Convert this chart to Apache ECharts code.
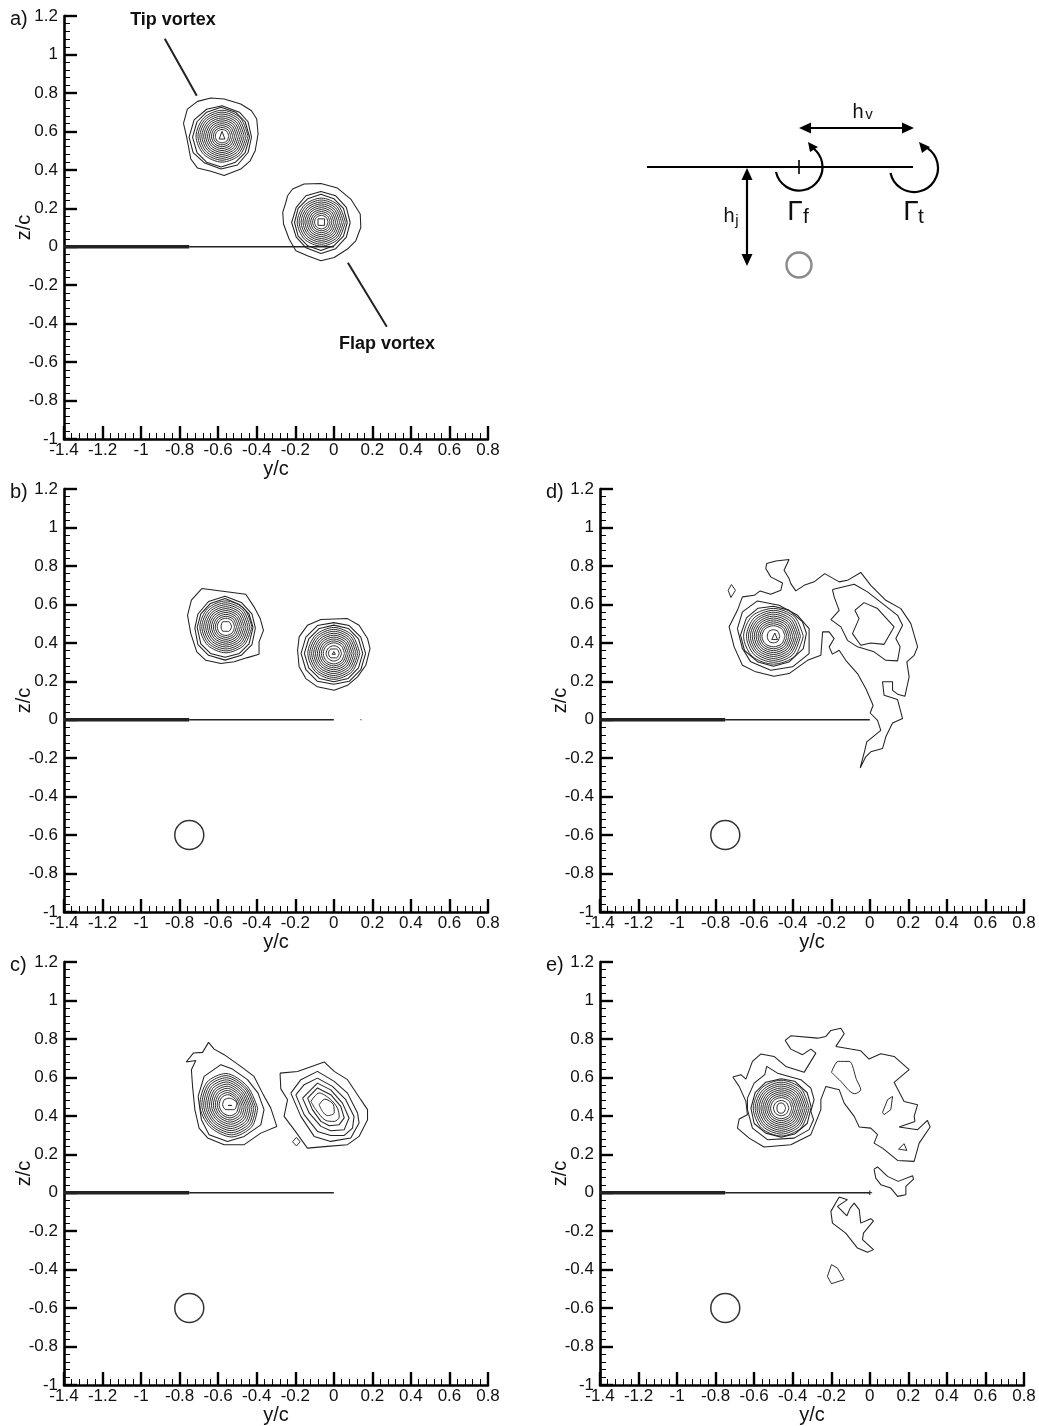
<!DOCTYPE html>
<html>
<head>
<meta charset="utf-8">
<style>html,body{margin:0;padding:0;background:#fff}#chart{width:1039px;height:1426px}</style>
<script src="https://cdn.jsdelivr.net/npm/echarts@6/dist/echarts.min.js"></script>
</head>
<body>
<div id="chart"></div>
<script>
const yTickMin = -1.4, yTickMax = 0.8, zTickMin = -1, zTickMax = 1.2, tickStep = 0.2;
const plateThick = [[-1.4,0],[-0.75,0]];
const plateThin = [[-0.75,0],[0,0]];
const jetCentre = [[-0.75,-0.6]];
const tipLeader = [[-0.877,1.082],[-0.711,0.785]];
const flapLeader = [[0.073,-0.083],[0.275,-0.416]];
const specB = [[0.14,0.003],[0.142,-0.003]];
const specE1 = [[-0.012,0],[0.012,0]];
const specE2 = [[0,-0.012],[0,0.012]];

const aTipRings = [
[[-.78,.641],[-.76,.716],[-.707,.756],[-.638,.773],[-.569,.768],[-.483,.742],[-.427,.707],[-.40,.664],[-.393,.586],[-.408,.499],[-.434,.447],[-.483,.404],[-.569,.371],[-.638,.392],[-.707,.409],[-.742,.456],[-.763,.568]],
[[-.427,.57],[-.445,.65],[-.49,.70],[-.58,.733],[-.66,.715],[-.725,.66],[-.751,.57],[-.73,.49],[-.67,.435],[-.585,.404],[-.50,.425],[-.445,.49]],
[[-.437,.57],[-.46,.65],[-.51,.70],[-.585,.725],[-.66,.70],[-.71,.65],[-.733,.57],[-.71,.49],[-.66,.44],[-.585,.415],[-.51,.44],[-.46,.49]],
[[-.445,.575],[-.485,.67],[-.58,.71],[-.675,.67],[-.715,.575],[-.675,.48],[-.58,.44],[-.485,.48]],
[[-.455,.575],[-.492,.663],[-.58,.70],[-.668,.663],[-.705,.575],[-.668,.487],[-.58,.45],[-.492,.487]],
[[-.465,.575],[-.499,.656],[-.58,.69],[-.661,.656],[-.695,.575],[-.661,.494],[-.58,.46],[-.499,.494]],
[[-.475,.575],[-.506,.649],[-.58,.68],[-.654,.649],[-.685,.575],[-.654,.501],[-.58,.47],[-.506,.501]],
[[-.485,.575],[-.513,.642],[-.58,.67],[-.647,.642],[-.675,.575],[-.647,.508],[-.58,.48],[-.513,.508]],
[[-.495,.575],[-.52,.635],[-.58,.66],[-.64,.635],[-.665,.575],[-.64,.515],[-.58,.49],[-.52,.515]],
[[-.505,.575],[-.527,.628],[-.58,.65],[-.633,.628],[-.655,.575],[-.633,.522],[-.58,.50],[-.527,.522]],
[[-.515,.575],[-.534,.621],[-.58,.64],[-.626,.621],[-.645,.575],[-.626,.529],[-.58,.51],[-.534,.529]],
[[-.525,.575],[-.541,.614],[-.58,.63],[-.619,.614],[-.635,.575],[-.619,.536],[-.58,.52],[-.541,.536]],
[[-.535,.575],[-.548,.607],[-.58,.62],[-.612,.607],[-.625,.575],[-.612,.543],[-.58,.53],[-.548,.543]],
[[-.545,.575],[-.555,.6],[-.58,.61],[-.605,.6],[-.615,.575],[-.605,.55],[-.58,.54],[-.555,.55]],
[[-.565,.56],[-.58,.6],[-.595,.56]]
];
const aFlapRings = [
[[-.24,.265],[-.214,.30],[-.154,.326],[-.067,.329],[.019,.305],[.088,.248],[.137,.17],[.14,.10],[.114,.031],[.071,-.012],[.002,-.056],[-.067,-.073],[-.137,-.047],[-.197,-.021],[-.232,.04],[-.261,.118],[-.265,.179],[-.249,.23]],
[[.085,.126],[.065,.205],[.01,.265],[-.067,.287],[-.145,.265],[-.195,.205],[-.219,.126],[-.195,.05],[-.145,-.005],[-.067,-.035],[.01,-.01],[.065,.05]],
[[.07,.126],[.05,.20],[0,.25],[-.067,.273],[-.135,.25],[-.185,.2],[-.204,.126],[-.185,.055],[-.135,.005],[-.067,-.02],[0,.005],[.05,.055]],
[[.06,.128],[.023,.216],[-.065,.253],[-.153,.216],[-.19,.128],[-.153,.04],[-.065,.003],[.023,.04]],
[[.05,.128],[.016,.209],[-.065,.243],[-.146,.209],[-.18,.128],[-.146,.047],[-.065,.013],[.016,.047]],
[[.04,.128],[.009,.202],[-.065,.233],[-.139,.202],[-.17,.128],[-.139,.054],[-.065,.023],[.009,.054]],
[[.03,.128],[.002,.195],[-.065,.223],[-.132,.195],[-.16,.128],[-.132,.061],[-.065,.033],[.002,.061]],
[[.02,.128],[-.005,.188],[-.065,.213],[-.125,.188],[-.15,.128],[-.125,.068],[-.065,.043],[-.005,.068]],
[[.01,.128],[-.012,.181],[-.065,.203],[-.118,.181],[-.14,.128],[-.118,.075],[-.065,.053],[-.012,.075]],
[[0,.128],[-.019,.174],[-.065,.193],[-.111,.174],[-.13,.128],[-.111,.082],[-.065,.063],[-.019,.082]],
[[-.01,.128],[-.026,.167],[-.065,.183],[-.104,.167],[-.12,.128],[-.104,.089],[-.065,.073],[-.026,.089]],
[[-.02,.128],[-.033,.16],[-.065,.173],[-.097,.16],[-.11,.128],[-.097,.096],[-.065,.083],[-.033,.096]],
[[-.03,.128],[-.04,.153],[-.065,.163],[-.09,.153],[-.1,.128],[-.09,.103],[-.065,.093],[-.04,.103]],
[[-.048,.145],[-.082,.145],[-.082,.111],[-.048,.111]]
];
const bTipRings = [
[[-.685,.682],[-.586,.67],[-.457,.653],[-.414,.587],[-.382,.526],[-.365,.465],[-.388,.405],[-.388,.341],[-.448,.323],[-.517,.301],[-.586,.292],[-.664,.309],[-.711,.353],[-.742,.448],[-.759,.543],[-.739,.622]],
[[-.407,.476],[-.425,.55],[-.48,.61],[-.564,.642],[-.65,.615],[-.705,.55],[-.721,.476],[-.705,.39],[-.65,.335],[-.564,.31],[-.48,.335],[-.425,.39]],
[[-.419,.48],[-.44,.55],[-.49,.6],[-.564,.63],[-.64,.605],[-.69,.55],[-.709,.48],[-.69,.395],[-.64,.345],[-.564,.325],[-.49,.345],[-.44,.395]],
[[-.425,.483],[-.465,.578],[-.56,.618],[-.655,.578],[-.695,.483],[-.655,.388],[-.56,.348],[-.465,.388]],
[[-.435,.483],[-.472,.571],[-.56,.608],[-.648,.571],[-.685,.483],[-.648,.395],[-.56,.358],[-.472,.395]],
[[-.445,.483],[-.479,.564],[-.56,.598],[-.641,.564],[-.675,.483],[-.641,.402],[-.56,.368],[-.479,.402]],
[[-.455,.483],[-.486,.557],[-.56,.588],[-.634,.557],[-.665,.483],[-.634,.409],[-.56,.378],[-.486,.409]],
[[-.465,.483],[-.493,.55],[-.56,.578],[-.627,.55],[-.655,.483],[-.627,.416],[-.56,.388],[-.493,.416]],
[[-.475,.483],[-.5,.543],[-.56,.568],[-.62,.543],[-.645,.483],[-.62,.423],[-.56,.398],[-.5,.423]],
[[-.485,.483],[-.507,.536],[-.56,.558],[-.613,.536],[-.635,.483],[-.613,.43],[-.56,.408],[-.507,.43]],
[[-.495,.483],[-.514,.529],[-.56,.548],[-.606,.529],[-.625,.483],[-.606,.437],[-.56,.418],[-.514,.437]],
[[-.505,.483],[-.521,.522],[-.56,.538],[-.599,.522],[-.615,.483],[-.599,.444],[-.56,.428],[-.521,.444]],
[[-.515,.483],[-.528,.515],[-.56,.528],[-.592,.515],[-.605,.483],[-.592,.451],[-.56,.438],[-.528,.451]],
[[-.53,.483],[-.545,.51],[-.575,.51],[-.585,.483],[-.575,.46],[-.545,.46]]
];
const bFlapRings = [
[[-.188,.361],[-.18,.431],[-.137,.491],[-.067,.521],[.071,.526],[.131,.491],[.175,.422],[.188,.37],[.166,.283],[.123,.223],[.071,.179],[.002,.153],[-.085,.171],[-.145,.214],[-.18,.275]],
[[.165,.345],[.14,.43],[.08,.49],[0,.505],[-.085,.49],[-.145,.43],[-.17,.345],[-.145,.26],[-.085,.2],[0,.185],[.08,.2],[.14,.26]],
[[.15,.345],[.128,.42],[.075,.475],[0,.492],[-.075,.475],[-.13,.42],[-.153,.345],[-.13,.27],[-.075,.215],[0,.198],[.075,.215],[.128,.27]],
[[.135,.345],[.095,.44],[0,.48],[-.095,.44],[-.135,.345],[-.095,.25],[0,.21],[.095,.25]],
[[.125,.345],[.088,.433],[0,.47],[-.088,.433],[-.125,.345],[-.088,.257],[0,.22],[.088,.257]],
[[.115,.345],[.081,.426],[0,.46],[-.081,.426],[-.115,.345],[-.081,.264],[0,.23],[.081,.264]],
[[.105,.345],[.074,.419],[0,.45],[-.074,.419],[-.105,.345],[-.074,.271],[0,.24],[.074,.271]],
[[.095,.345],[.067,.412],[0,.44],[-.067,.412],[-.095,.345],[-.067,.278],[0,.25],[.067,.278]],
[[.085,.345],[.06,.405],[0,.43],[-.06,.405],[-.085,.345],[-.06,.285],[0,.26],[.06,.285]],
[[.075,.345],[.053,.398],[0,.42],[-.053,.398],[-.075,.345],[-.053,.292],[0,.27],[.053,.292]],
[[.065,.345],[.046,.391],[0,.41],[-.046,.391],[-.065,.345],[-.046,.299],[0,.28],[.046,.299]],
[[.055,.345],[.039,.384],[0,.4],[-.039,.384],[-.055,.345],[-.039,.306],[0,.29],[.039,.306]],
[[.04,.345],[.028,.373],[0,.385],[-.028,.373],[-.04,.345],[-.028,.317],[0,.305],[.028,.317]],
[[.028,.345],[.015,.368],[-.015,.368],[-.028,.345],[-.015,.322],[.015,.322]],
[[.008,.34],[0,.355],[-.008,.34]]
];
const cTipRings = [
[[-.766,.68],[-.728,.727],[-.681,.73],[-.65,.782],[-.621,.747],[-.569,.718],[-.483,.657],[-.414,.605],[-.37,.518],[-.327,.44],[-.296,.345],[-.379,.31],[-.465,.25],[-.569,.25],[-.655,.285],[-.699,.336],[-.721,.432],[-.733,.553],[-.739,.64],[-.716,.688]],
[[-.704,.501],[-.673,.605],[-.586,.666],[-.526,.643],[-.448,.588],[-.393,.518],[-.362,.432],[-.379,.353],[-.465,.293],[-.552,.267],[-.647,.302],[-.687,.38]],
[[-.395,.44],[-.448,.553],[-.56,.62],[-.658,.575],[-.695,.455],[-.643,.343],[-.53,.29],[-.425,.343]],
[[-.405,.441],[-.454,.546],[-.559,.609],[-.65,.567],[-.685,.455],[-.636,.35],[-.531,.301],[-.433,.35]],
[[-.415,.442],[-.46,.54],[-.558,.598],[-.643,.559],[-.675,.455],[-.63,.357],[-.532,.312],[-.441,.357]],
[[-.425,.443],[-.467,.533],[-.557,.587],[-.635,.551],[-.665,.455],[-.623,.365],[-.533,.323],[-.449,.365]],
[[-.435,.444],[-.474,.527],[-.556,.576],[-.628,.543],[-.655,.455],[-.617,.372],[-.534,.334],[-.457,.372]],
[[-.445,.445],[-.48,.52],[-.555,.565],[-.62,.535],[-.645,.455],[-.61,.38],[-.535,.345],[-.465,.38]],
[[-.455,.446],[-.487,.514],[-.554,.554],[-.613,.527],[-.635,.455],[-.604,.387],[-.536,.356],[-.473,.387]],
[[-.465,.447],[-.493,.507],[-.553,.543],[-.605,.519],[-.625,.455],[-.597,.395],[-.537,.367],[-.481,.395]],
[[-.475,.448],[-.5,.5],[-.552,.532],[-.598,.511],[-.615,.455],[-.591,.402],[-.538,.378],[-.489,.402]],
[[-.485,.449],[-.506,.494],[-.551,.521],[-.59,.503],[-.605,.455],[-.584,.41],[-.539,.389],[-.497,.41]],
[[-.495,.45],[-.512,.488],[-.55,.51],[-.582,.495],[-.595,.455],[-.577,.417],[-.54,.4],[-.505,.417]],
[[-.569,.484],[-.543,.492],[-.503,.466],[-.517,.432],[-.56,.432],[-.577,.458]],
[[-.53,.454],[-.538,.463],[-.548,.454],[-.538,.445]]
];
const cFlapRings = [
[[-.279,.622],[-.188,.631],[-.05,.68],[.002,.631],[.071,.588],[.14,.484],[.175,.432],[.175,.38],[.131,.293],[.071,.25],[-.033,.241],[-.137,.232],[-.206,.328],[-.258,.397],[-.24,.484],[-.275,.54]],
[[-.223,.518],[-.171,.588],[-.085,.631],[.002,.579],[.071,.518],[.123,.415],[.131,.363],[.088,.285],[-.016,.267],[-.102,.293],[-.171,.397]],
[[-.197,.509],[-.154,.562],[-.085,.596],[-.007,.553],[.062,.484],[.105,.397],[.097,.336],[.054,.298],[-.016,.298],[-.085,.319],[-.154,.406]],
[[-.162,.492],[-.085,.57],[-.016,.535],[.045,.466],[.079,.389],[.054,.328],[-.016,.322],[-.067,.345],[-.128,.415]],
[[-.136,.492],[-.085,.545],[-.016,.51],[.036,.449],[.054,.389],[.028,.354],[-.024,.348],[-.067,.371],[-.111,.432]],
[[-.119,.475],[-.076,.519],[-.019,.487],[.019,.44],[.028,.393],[.002,.371],[-.042,.376],[-.093,.432]],
[[-.076,.458],[-.047,.487],[-.002,.458],[.002,.415],[-.033,.401],[-.059,.423]],
[[-.214,.265],[-.194,.288],[-.175,.265],[-.194,.243]]
];
const dVortexRings = [
[[-.687,.474],[-.661,.561],[-.583,.618],[-.471,.595],[-.375,.543],[-.315,.474],[-.315,.344],[-.401,.275],[-.514,.257],[-.618,.301],[-.661,.37]],
[[-.329,.45],[-.35,.51],[-.42,.57],[-.50,.59],[-.58,.58],[-.64,.53],[-.671,.44],[-.65,.36],[-.58,.30],[-.50,.278],[-.42,.30],[-.345,.37]],
[[-.345,.434],[-.39,.535],[-.5,.579],[-.61,.54],[-.655,.434],[-.61,.33],[-.5,.289],[-.39,.33]],
[[-.36,.434],[-.40,.53],[-.5,.569],[-.60,.53],[-.64,.434],[-.60,.338],[-.5,.299],[-.40,.338]],
[[-.37,.434],[-.408,.522],[-.5,.559],[-.592,.522],[-.63,.434],[-.592,.346],[-.5,.309],[-.408,.346]],
[[-.38,.434],[-.415,.515],[-.5,.549],[-.585,.515],[-.62,.434],[-.585,.353],[-.5,.319],[-.415,.353]],
[[-.39,.434],[-.422,.508],[-.5,.539],[-.578,.508],[-.61,.434],[-.578,.36],[-.5,.329],[-.422,.36]],
[[-.40,.434],[-.429,.501],[-.5,.529],[-.571,.501],[-.60,.434],[-.571,.367],[-.5,.339],[-.429,.367]],
[[-.41,.434],[-.436,.494],[-.5,.519],[-.564,.494],[-.59,.434],[-.564,.374],[-.5,.349],[-.436,.374]],
[[-.42,.434],[-.443,.487],[-.5,.509],[-.557,.487],[-.58,.434],[-.557,.381],[-.5,.359],[-.443,.381]],
[[-.43,.434],[-.45,.48],[-.5,.499],[-.55,.48],[-.57,.434],[-.55,.388],[-.5,.369],[-.45,.388]],
[[-.44,.434],[-.457,.473],[-.5,.489],[-.543,.473],[-.56,.434],[-.543,.395],[-.5,.379],[-.457,.395]],
[[-.468,.434],[-.477,.46],[-.5,.468],[-.523,.46],[-.532,.434],[-.523,.408],[-.5,.40],[-.477,.408]],
[[-.493,.451],[-.479,.417],[-.509,.417]]
];
const dOuterContour = [[-.661,.639],[-.6,.647],[-.569,.67],[-.514,.653],[-.462,.673],[-.453,.711],[-.514,.743],[-.54,.786],[-.535,.812],[-.488,.826],[-.419,.833],[-.445,.777],[-.419,.734],[-.41,.708],[-.384,.67],[-.341,.699],[-.289,.717],[-.234,.76],[-.159,.717],[-.116,.725],[-.047,.766],[.005,.699],[.083,.621],[.161,.578],[.213,.5],[.248,.379],[.23,.335],[.192,.301],[.204,.223],[.182,.122],[.144,.133],[.118,.153],[.118,.197],[.066,.197],[.074,.127],[.144,.105],[.17,.006],[.118,-.017],[.083,-.089],[.066,-.15],[.005,-.167],[-.021,-.193],[-.05,-.251],[-.026,-.159],[-.016,-.115],[.057,-.055],[.04,-.003],[.002,.035],[.017,.075],[-.021,.162],[-.064,.24],[-.125,.309],[-.159,.361],[-.194,.341],[-.211,.379],[-.185,.422],[-.211,.457],[-.245,.457],[-.254,.335],[-.323,.309],[-.419,.24],[-.497,.226],[-.592,.249],[-.661,.283],[-.704,.379],[-.73,.483],[-.687,.569]];
const dInnerContour = [[-.194,.677],[-.081,.705],[-.012,.665],[.066,.604],[.144,.543],[.17,.491],[.135,.422],[.157,.379],[.144,.306],[.083,.309],[.022,.353],[-.064,.379],[-.116,.413],[-.15,.483],[-.202,.521],[-.159,.569],[-.185,.639]];
const dCoreContour = [[-.078,.569],[-.03,.609],[.04,.578],[.126,.483],[.074,.392],[.005,.399],[-.047,.387],[-.09,.448],[-.056,.526]];
const dIsland = [[-.735,.673],[-.718,.703],[-.697,.673],[-.721,.636]];
const eVortexRings = [
[[-.635,.492],[-.6,.57],[-.545,.614],[-.535,.657],[-.479,.622],[-.358,.588],[-.306,.544],[-.289,.484],[-.306,.423],[-.292,.38],[-.315,.328],[-.393,.284],[-.531,.276],[-.609,.336],[-.635,.432]],
[[-.304,.445],[-.325,.52],[-.39,.58],[-.46,.593],[-.54,.575],[-.595,.52],[-.617,.44],[-.6,.36],[-.54,.31],[-.46,.289],[-.39,.305],[-.325,.36]],
[[-.315,.44],[-.357,.543],[-.46,.585],[-.563,.543],[-.605,.44],[-.563,.337],[-.46,.295],[-.357,.337]],
[[-.325,.44],[-.365,.535],[-.46,.575],[-.555,.535],[-.595,.44],[-.555,.345],[-.46,.305],[-.365,.345]],
[[-.335,.44],[-.372,.528],[-.46,.565],[-.548,.528],[-.585,.44],[-.548,.352],[-.46,.315],[-.372,.352]],
[[-.345,.44],[-.379,.521],[-.46,.555],[-.541,.521],[-.575,.44],[-.541,.359],[-.46,.325],[-.379,.359]],
[[-.355,.44],[-.386,.514],[-.46,.545],[-.534,.514],[-.565,.44],[-.534,.366],[-.46,.335],[-.386,.366]],
[[-.365,.44],[-.393,.507],[-.46,.535],[-.527,.507],[-.555,.44],[-.527,.373],[-.46,.345],[-.393,.373]],
[[-.375,.44],[-.40,.5],[-.46,.525],[-.52,.5],[-.545,.44],[-.52,.38],[-.46,.355],[-.40,.38]],
[[-.385,.44],[-.407,.493],[-.46,.515],[-.513,.493],[-.535,.44],[-.513,.387],[-.46,.365],[-.407,.387]],
[[-.395,.44],[-.414,.486],[-.46,.505],[-.506,.486],[-.525,.44],[-.506,.394],[-.46,.375],[-.414,.394]],
[[-.405,.44],[-.421,.479],[-.46,.495],[-.499,.479],[-.515,.44],[-.499,.401],[-.46,.385],[-.421,.401]],
[[-.42,.44],[-.432,.468],[-.46,.48],[-.488,.468],[-.50,.44],[-.488,.412],[-.46,.40],[-.432,.412]],
[[-.437,.44],[-.445,.46],[-.46,.467],[-.477,.46],[-.482,.44],[-.477,.42],[-.46,.413],[-.445,.42]]
];
const eOuterContour = [[-.711,.602],[-.669,.614],[-.643,.591],[-.609,.683],[-.566,.721],[-.497,.709],[-.436,.657],[-.341,.626],[-.28,.726],[-.306,.747],[-.349,.718],[-.41,.747],[-.439,.792],[-.41,.816],[-.271,.804],[-.228,.813],[-.202,.844],[-.15,.856],[-.133,.827],[-.176,.761],[-.099,.747],[-.047,.738],[-.004,.695],[.057,.723],[.126,.709],[.204,.64],[.126,.574],[.178,.475],[.248,.458],[.23,.397],[.234,.371],[.152,.342],[.248,.328],[.299,.376],[.313,.342],[.256,.258],[.23,.163],[.144,.168],[.066,.232],[.022,.258],[.04,.302],[.005,.336],[-.055,.342],[-.081,.397],[-.133,.466],[-.159,.536],[-.228,.553],[-.254,.484],[-.254,.432],[-.306,.302],[-.41,.25],[-.549,.238],[-.626,.284],[-.687,.336],[-.678,.383],[-.635,.406],[-.643,.475],[-.678,.553]];
const eHoleA = [[-.199,.626],[-.164,.683],[-.107,.683],[-.069,.588],[-.047,.536],[-.078,.515],[-.159,.588]];
const eHoleB = [[.092,.484],[.118,.501],[.109,.432],[.074,.406],[.066,.418]];
const eHoleC = [[.149,.227],[.178,.255],[.192,.22]];
const eIslandA = [[.022,.123],[.04,.134],[.092,.085],[.147,.059],[.222,.088],[.227,.071],[.187,.033],[.187,-.01],[.144,-.019],[.109,.024],[.057,.042],[.031,.076]];
const eIslandB = [[-.159,-.022],[-.116,-.036],[-.168,-.071],[-.119,-.12],[-.102,-.08],[-.081,-.054],[-.055,-.088],[-.047,-.158],[.005,-.135],[.019,-.146],[-.033,-.21],[-.038,-.244],[.019,-.296],[-.012,-.31],[-.064,-.288],[-.125,-.21],[-.194,-.158],[-.202,-.097]];
const eIslandC = [[-.22,-.435],[-.199,-.374],[-.168,-.392],[-.133,-.452],[-.199,-.473]];

const font = '"Liberation Sans", Arial, sans-serif';
const ink = '#222';
const panels = [
  {letter:'a)', left:64,  top:16,  jet:false, rings:[...aTipRings, ...aFlapRings], extra:[tipLeader, flapLeader]},
  {letter:'b)', left:64,  top:489, jet:true,  rings:[...bTipRings, ...bFlapRings], extra:[specB]},
  {letter:'c)', left:64,  top:962, jet:true,  rings:[...cTipRings, ...cFlapRings], extra:[]},
  {letter:'d)', left:600, top:489, jet:true,  rings:[...dVortexRings, dOuterContour, dInnerContour, dCoreContour, dIsland], extra:[]},
  {letter:'e)', left:600, top:962, jet:true,  rings:[...eVortexRings, eOuterContour, eHoleA, eHoleB, eHoleC, eIslandA, eIslandB, eIslandC], extra:[specE1, specE2]}
];

const grids = [], xAxes = [], yAxes = [], series = [], graphics = [];
panels.forEach((p, i) => {
  grids.push({left:p.left, top:p.top, width:424, height:423, containLabel:false, outerBoundsMode:'none'});
  const axisCommon = {
    type:'value', interval:tickStep, splitLine:{show:false}, minorSplitLine:{show:false},
    axisLine:{show:true, onZero:false, lineStyle:{color:'#000', width:2.6}},
    axisTick:{show:true, inside:true, length:13, lineStyle:{color:'#000', width:2.4}},
    minorTick:{show:true, splitNumber:5, length:6, lineStyle:{color:'#000', width:1}},
    nameLocation:'middle', nameMoveOverlap:false, nameTextStyle:{fontFamily:font, fontSize:20, color:'#111'}
  };
  xAxes.push({...axisCommon, gridIndex:i, min:yTickMin, max:yTickMax, name:'y/c', nameGap:20,
    axisLabel:{fontFamily:font, fontSize:17, color:'#111', margin:3, showMinLabel:true, showMaxLabel:true, hideOverlap:false}});
  yAxes.push({...axisCommon, gridIndex:i, min:zTickMin, max:zTickMax, name:'z/c', nameGap:30,
    axisLabel:{fontFamily:font, fontSize:17, color:'#111', margin:6, showMinLabel:true, showMaxLabel:true, hideOverlap:false}});
  const line = (data, width, smooth) => series.push({
    type:'line', xAxisIndex:i, yAxisIndex:i, data, symbol:'none', smooth:smooth||false,
    lineStyle:{color:ink, width}, silent:true, animation:false, z:3
  });
  p.rings.forEach(r => line([...r, r[0]], r.length <= 8 ? 0.95 : 1.05, r.length <= 8 && r.length >= 6 ? 0.3 : false));
  p.extra.forEach(e => line(e, e.length === 2 && p.letter === 'a)' ? 2 : 1));
  line(plateThick, 3.4);
  line(plateThin, 1.4);
  if (p.jet) series.push({
    type:'scatter', xAxisIndex:i, yAxisIndex:i, data:jetCentre, symbol:'circle', symbolSize:29, silent:true, animation:false,
    itemStyle:{color:'rgba(0,0,0,0)', borderColor:'#000', borderWidth:1.5}
  });
  graphics.push({type:'text', left:p.left - 54, top:p.top - 7, style:{text:p.letter, font:'20px ' + font, fill:'#111'}});
});

const txt = (text, x, y, size, extra) => ({type:'text', x, y, style:{text, font:size + 'px ' + font, fill:'#111', textAlign:'center', textVerticalAlign:'middle', ...(extra||{})}});
const seg = (x1,y1,x2,y2,w) => ({type:'line', shape:{x1,y1,x2,y2}, style:{stroke:'#000', lineWidth:w||2.2}});
const tri = (pts) => ({type:'polygon', shape:{points:pts}, style:{fill:'#000'}});
const arc = (cx,cy,r,s,e) => ({type:'arc', shape:{cx,cy,r,startAngle:s*Math.PI/180,endAngle:e*Math.PI/180,clockwise:false}, style:{stroke:'#000', fill:'none', lineWidth:2.2}});
graphics.push(
  txt('Tip vortex', 173, 20, 'bold 18', {}),
  txt('Flap vortex', 387, 344, 'bold 18', {}),
  seg(647,167,913,167), seg(799,160,799,174,1.6),
  seg(804,128,909,128), tri([[799,128],[811,122.5],[811,133.5]]), tri([[914,128],[902,122.5],[902,133.5]]),
  seg(747,174,747,260), tri([[747,168],[741.5,180],[752.5,180]]), tri([[747,266],[741.5,254],[752.5,254]]),
  arc(799,167,23.5,168,-50), tri([[808,142],[818,147],[810,152]]),
  arc(914,168,24,168,-56), tri([[919,142],[930,147],[922,153]]),
  {type:'circle', shape:{cx:799,cy:265,r:12.5}, style:{stroke:'#8a8a8a', fill:'none', lineWidth:2.4}},
  txt('h', 858, 112, 20), txt('v', 869, 115, 15),
  txt('h', 729, 216, 20), txt('j', 737, 221, 15),
  txt('Γ', 795, 212, 28), txt('f', 806, 217, 21),
  txt('Γ', 911, 212, 28), txt('t', 921, 217, 21)
);

const chart = echarts.init(document.getElementById('chart'), null, {renderer:'canvas', width:1039, height:1426});
chart.setOption({animation:false, backgroundColor:'#fff', grid:grids, xAxis:xAxes, yAxis:yAxes, series, graphic:graphics});
</script>
</body>
</html>
